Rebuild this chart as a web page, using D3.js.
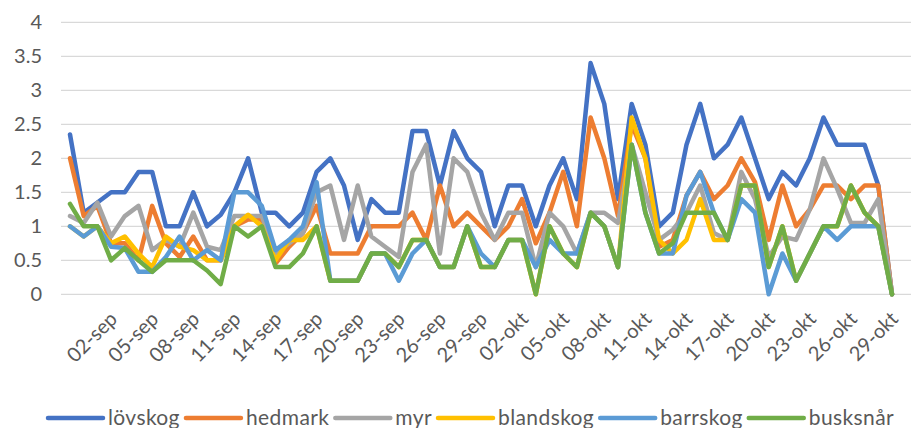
<!DOCTYPE html>
<html>
<head>
<meta charset="utf-8">
<script src="https://cdn.jsdelivr.net/npm/d3@7"></script>
<style>
  html, body { margin: 0; padding: 0; background: #ffffff; }
  svg { display: block; }
  text { font-family: Lato, "Open Sans", sans-serif; fill: #595959; }
</style>
</head>
<body>
<svg id="chart" width="911" height="428"></svg>
<script>
// Daily categories, 30 Aug – 29 Oct
const days = [
  "30-aug","31-aug",
  "01-sep","02-sep","03-sep","04-sep","05-sep","06-sep","07-sep","08-sep","09-sep","10-sep",
  "11-sep","12-sep","13-sep","14-sep","15-sep","16-sep","17-sep","18-sep","19-sep","20-sep",
  "21-sep","22-sep","23-sep","24-sep","25-sep","26-sep","27-sep","28-sep","29-sep","30-sep",
  "01-okt","02-okt","03-okt","04-okt","05-okt","06-okt","07-okt","08-okt","09-okt","10-okt",
  "11-okt","12-okt","13-okt","14-okt","15-okt","16-okt","17-okt","18-okt","19-okt","20-okt",
  "21-okt","22-okt","23-okt","24-okt","25-okt","26-okt","27-okt","28-okt","29-okt"
];

// Labelled days on the category axis
const tickLabels = [
  "02-sep","05-sep","08-sep","11-sep","14-sep","17-sep","20-sep","23-sep","26-sep","29-sep",
  "02-okt","05-okt","08-okt","11-okt","14-okt","17-okt","20-okt","23-okt","26-okt","29-okt"
];

const yTicks = [0, 0.5, 1, 1.5, 2, 2.5, 3, 3.5, 4];

const seriesNames = ["lövskog","hedmark","myr","blandskog","barrskog","busksnår"];
const seriesColors = ["#4472C4","#ED7D31","#A5A5A5","#FFC000","#5B9BD5","#70AD47"];

const lovskog = [
  2.35,1.2,1.35,1.5,1.5,1.8,1.8,1.0,1.0,1.5,
  1.0,1.17,1.5,2.0,1.2,1.2,1.0,1.2,1.8,2.0,
  1.6,0.8,1.4,1.2,1.2,2.4,2.4,1.6,2.4,2.0,
  1.8,1.0,1.6,1.6,1.0,1.6,2.0,1.4,3.4,2.8,
  1.4,2.8,2.2,1.0,1.2,2.2,2.8,2.0,2.2,2.6,
  2.0,1.4,1.8,1.6,2.0,2.6,2.2,2.2,2.2,1.6,
  0
];
const hedmark = [
  2.0,1.15,1.3,0.75,0.75,0.5,1.3,0.75,0.55,0.85,
  0.5,0.5,1.0,1.1,1.1,0.45,0.7,0.9,1.3,0.6,
  0.6,0.6,1.0,1.0,1.0,1.2,0.8,1.6,1.0,1.2,
  1.0,0.8,1.0,1.4,0.75,1.2,1.8,1.0,2.6,2.0,
  1.15,2.5,2.0,0.7,0.8,1.45,1.8,1.4,1.6,2.0,
  1.65,0.8,1.6,1.0,1.25,1.6,1.6,1.4,1.6,1.6,
  0
];
const myr = [
  1.15,1.05,1.35,0.85,1.15,1.3,0.65,0.8,0.7,1.2,
  0.7,0.65,1.15,1.15,1.15,0.6,0.75,0.9,1.5,1.6,
  0.8,1.6,0.85,0.7,0.55,1.8,2.2,0.6,2.0,1.8,
  1.2,0.8,1.2,1.2,0.4,1.2,1.0,0.6,1.2,1.2,
  1.05,2.2,1.5,0.8,0.95,1.2,1.6,0.9,0.8,1.8,
  1.4,0.55,0.85,0.8,1.25,2.0,1.55,1.05,1.05,1.4,
  0
];
const blandskog = [
  1.0,0.85,1.0,0.75,0.85,0.6,0.4,0.85,0.7,0.65,
  0.5,0.5,1.0,1.17,1.0,0.5,0.8,0.8,1.0,0.2,
  0.2,0.2,0.6,0.6,0.4,0.8,0.8,0.4,0.4,1.0,
  0.4,0.4,0.8,0.8,0.0,1.0,0.6,0.4,1.2,1.0,
  0.4,2.6,2.0,0.8,0.6,0.8,1.4,0.8,0.8,1.6,
  1.6,0.4,1.0,0.2,0.6,1.0,1.0,1.6,1.2,1.0,
  0
];
const barrskog = [
  1.0,0.85,1.0,0.7,0.68,0.33,0.33,0.55,0.85,0.5,
  0.65,0.5,1.5,1.5,1.3,0.65,0.8,1.0,1.65,0.2,
  0.2,0.2,0.6,0.6,0.2,0.6,0.8,0.4,0.4,1.0,
  0.6,0.4,0.8,0.8,0.4,0.8,0.6,0.6,1.2,1.0,
  0.4,2.2,1.2,0.6,0.6,1.45,1.8,1.2,0.8,1.4,
  1.2,0.0,0.6,0.2,0.6,1.0,0.8,1.0,1.0,1.0,
  0
];
const busksnar = [
  1.33,1.0,1.0,0.5,0.68,0.5,0.33,0.5,0.5,0.5,
  0.35,0.15,1.0,0.85,1.0,0.4,0.4,0.6,1.0,0.2,
  0.2,0.2,0.6,0.6,0.4,0.8,0.8,0.4,0.4,1.0,
  0.4,0.4,0.8,0.8,0.0,1.0,0.6,0.4,1.2,1.0,
  0.4,2.2,1.2,0.6,0.75,1.2,1.2,1.2,0.8,1.6,
  1.6,0.4,1.0,0.2,0.6,1.0,1.0,1.6,1.2,1.0,
  0
];

const seriesValues = [lovskog, hedmark, myr, blandskog, barrskog, busksnar];

const svg = d3.select("#chart");
const W = 911;

const x = d3.scalePoint().domain(days).range([70, 892]);
const y = d3.scaleLinear().domain([0, 4]).range([294.3, 22.3]);

// horizontal gridlines
svg.append("g")
  .selectAll("line")
  .data(yTicks)
  .join("line")
  .attr("x1", 61).attr("x2", W)
  .attr("y1", d => y(d)).attr("y2", d => y(d))
  .attr("stroke", "#d9d9d9")
  .attr("stroke-width", 1.3);

// value axis labels
const yAxis = d3.axisLeft(y)
  .tickValues(yTicks)
  .tickSize(0)
  .tickPadding(0)
  .tickFormat(d => String(d));
svg.append("g")
  .attr("transform", "translate(42,0)")
  .call(yAxis)
  .call(g => g.select(".domain").remove())
  .call(g => g.selectAll("text")
    .attr("font-family", "Lato, sans-serif")
    .attr("font-size", 20)
    .attr("fill", "#595959"));

// category axis labels, rotated
const xAxis = d3.axisBottom(x)
  .tickValues(tickLabels)
  .tickSize(0)
  .tickPadding(0);
svg.append("g")
  .attr("transform", "translate(0,294.3)")
  .call(xAxis)
  .call(g => g.select(".domain").remove())
  .call(g => g.selectAll("text")
    .attr("font-family", "Lato, sans-serif")
    .attr("font-size", 20)
    .attr("fill", "#595959")
    .attr("text-anchor", "end")
    .attr("dy", "0.35em")
    .attr("transform", "translate(2,21) rotate(-45)"));

// series lines
const line = d3.line()
  .x((d, i) => x(days[i]))
  .y(d => y(d));

svg.append("g")
  .selectAll("path")
  .data(seriesValues)
  .join("path")
  .attr("d", d => line(d))
  .attr("fill", "none")
  .attr("stroke", (d, i) => seriesColors[i])
  .attr("stroke-width", 4.5)
  .attr("stroke-linejoin", "round")
  .attr("stroke-linecap", "round");

// legend
const legend = svg.append("g").attr("transform", "translate(48,418)");
const items = legend.selectAll("g")
  .data(seriesNames)
  .join("g");
items.append("line")
  .attr("x1", 0).attr("x2", 55)
  .attr("y1", 0).attr("y2", 0)
  .attr("stroke", (d, i) => seriesColors[i])
  .attr("stroke-width", 4.5)
  .attr("stroke-linecap", "round");
items.append("text")
  .attr("x", 60)
  .attr("y", 0)
  .attr("dy", "0.35em")
  .attr("font-size", 21)
  .attr("letter-spacing", 0.4)
  .attr("fill", "#595959")
  .text(d => d);

let cursor = 0;
items.each(function () {
  const g = d3.select(this);
  g.attr("transform", `translate(${cursor},0)`);
  const tw = g.select("text").node().getComputedTextLength();
  cursor += 60 + tw + 6;
});
</script>
</body>
</html>
